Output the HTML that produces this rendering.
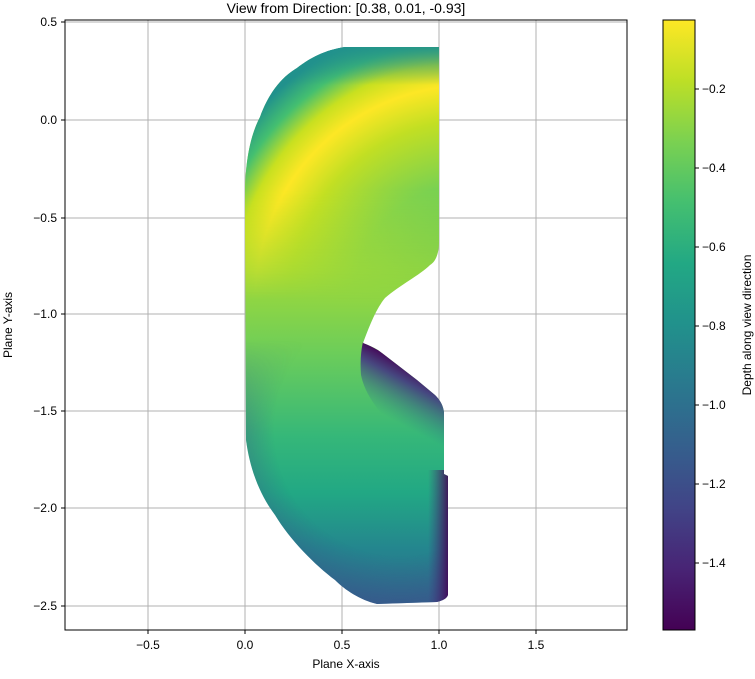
<!DOCTYPE html>
<html><head><meta charset="utf-8"><style>
html,body{margin:0;padding:0;background:#fff;}
svg{display:block;font-family:"Liberation Sans","DejaVu Sans",sans-serif;}
</style></head><body>
<svg width="755" height="679" viewBox="0 0 755 679" xmlns="http://www.w3.org/2000/svg">
<defs>
<clipPath id="shape"><path d="M345,47 L439,47 L439,241 C439,255 435,262 430,265 C420,275 400,285 385,298 C375,310 368,330 363,343 C368,345 373,347 378,350 L417,380 L435,395 C440,400 443,405 444,412 L444,474 L448,476 L448,595 C446,600 440,601 437,602 L377,604 C360,600 345,590 335,580 C315,565 290,540 275,515 C260,495 250,470 246,440 L245,196 C245,170 248,140 260,117 C268,95 280,78 297,68 C310,58 325,50 345,47 Z"/></clipPath>
<linearGradient id="base" gradientUnits="userSpaceOnUse" x1="0" y1="47" x2="0" y2="604">
<stop offset="0" stop-color="#21918c"/><stop offset="0.08" stop-color="#7ad151"/><stop offset="0.25" stop-color="#c8e020"/><stop offset="0.4" stop-color="#a2da37"/><stop offset="0.55" stop-color="#6ccd5a"/><stop offset="0.7" stop-color="#35b779"/><stop offset="0.8" stop-color="#22a884"/><stop offset="0.9" stop-color="#24868e"/><stop offset="1" stop-color="#2f6b8e"/>
</linearGradient>
<radialGradient id="top" gradientUnits="userSpaceOnUse" cx="470" cy="300" r="290">
<stop offset="0" stop-color="#3fbc73"/><stop offset="0.4" stop-color="#7ad151"/><stop offset="0.62" stop-color="#c2df23"/><stop offset="0.74" stop-color="#fde725"/><stop offset="0.82" stop-color="#c8e020"/><stop offset="0.9" stop-color="#44bf70"/><stop offset="0.98" stop-color="#21918c"/><stop offset="1" stop-color="#21918c"/>
</radialGradient>
<linearGradient id="fadeM" gradientUnits="userSpaceOnUse" x1="0" y1="190" x2="0" y2="300">
<stop offset="0" stop-color="#fff"/><stop offset="1" stop-color="#000"/></linearGradient>
<mask id="topmask"><rect x="0" y="0" width="755" height="679" fill="url(#fadeM)"/></mask>
<linearGradient id="fadeB" gradientUnits="userSpaceOnUse" x1="0" y1="340" x2="0" y2="430">
<stop offset="0" stop-color="#000"/><stop offset="1" stop-color="#fff"/></linearGradient>
<mask id="botmask"><rect x="0" y="0" width="755" height="679" fill="url(#fadeB)"/></mask>
<linearGradient id="topedge" gradientUnits="userSpaceOnUse" x1="0" y1="47" x2="0" y2="85">
<stop offset="0" stop-color="#21918c" stop-opacity="0.9"/><stop offset="1" stop-color="#21918c" stop-opacity="0"/></linearGradient>
<linearGradient id="notch" gradientUnits="userSpaceOnUse" x1="405" y1="362" x2="378" y2="412">
<stop offset="0" stop-color="#440154" stop-opacity="1"/><stop offset="0.3" stop-color="#443983" stop-opacity="0.9"/><stop offset="1" stop-color="#2a788e" stop-opacity="0"/></linearGradient>
<radialGradient id="bot" gradientUnits="userSpaceOnUse" cx="400" cy="430" r="210">
<stop offset="0.6" stop-color="#3b528b" stop-opacity="0"/><stop offset="1" stop-color="#414487" stop-opacity="0.85"/></radialGradient>
<linearGradient id="rstrip" gradientUnits="userSpaceOnUse" x1="428" y1="0" x2="448" y2="0">
<stop offset="0" stop-color="#46307e" stop-opacity="0"/><stop offset="1" stop-color="#440154" stop-opacity="0.85"/></linearGradient>
<linearGradient id="cb" x1="0" y1="1" x2="0" y2="0">
<stop offset="0" stop-color="#440154"/><stop offset="0.1" stop-color="#482475"/><stop offset="0.2" stop-color="#414487"/><stop offset="0.3" stop-color="#355f8d"/><stop offset="0.4" stop-color="#2a788e"/><stop offset="0.5" stop-color="#21918c"/><stop offset="0.6" stop-color="#22a884"/><stop offset="0.7" stop-color="#44bf70"/><stop offset="0.8" stop-color="#7ad151"/><stop offset="0.9" stop-color="#bddf26"/><stop offset="1" stop-color="#fde725"/>
</linearGradient>
</defs>
<text x="346" y="13" font-size="14" text-anchor="middle">View from Direction: [0.38, 0.01, -0.93]</text>
<g stroke="#b0b0b0" stroke-width="1">
<line x1="148" y1="20" x2="148" y2="630"/><line x1="245" y1="20" x2="245" y2="630"/><line x1="342" y1="20" x2="342" y2="630"/><line x1="439" y1="20" x2="439" y2="630"/><line x1="536" y1="20" x2="536" y2="630"/>
<line x1="65" y1="22" x2="627" y2="22"/><line x1="65" y1="120" x2="627" y2="120"/><line x1="65" y1="218" x2="627" y2="218"/><line x1="65" y1="314" x2="627" y2="314"/><line x1="65" y1="411" x2="627" y2="411"/><line x1="65" y1="508" x2="627" y2="508"/><line x1="65" y1="606" x2="627" y2="606"/>
</g>
<g clip-path="url(#shape)">
<rect x="240" y="40" width="215" height="570" fill="url(#base)"/>
<rect x="240" y="40" width="215" height="300" fill="url(#top)" mask="url(#topmask)"/>
<rect x="240" y="40" width="215" height="60" fill="url(#topedge)"/>
<rect x="240" y="40" width="215" height="570" fill="url(#bot)" mask="url(#botmask)"/>
<path d="M363,342 L460,395 L460,470 L400,432 C380,415 365,395 361,375 C360,362 361,350 363,342 Z" fill="url(#notch)"/>
<rect x="420" y="470" width="35" height="140" fill="url(#rstrip)"/>
</g>
<rect x="65" y="20" width="562" height="610" fill="none" stroke="#000" stroke-width="1"/>
<g stroke="#000" stroke-width="1">
<line x1="148" y1="630" x2="148" y2="634"/><line x1="245" y1="630" x2="245" y2="634"/><line x1="342" y1="630" x2="342" y2="634"/><line x1="439" y1="630" x2="439" y2="634"/><line x1="536" y1="630" x2="536" y2="634"/>
<line x1="61" y1="22" x2="65" y2="22"/><line x1="61" y1="120" x2="65" y2="120"/><line x1="61" y1="218" x2="65" y2="218"/><line x1="61" y1="314" x2="65" y2="314"/><line x1="61" y1="411" x2="65" y2="411"/><line x1="61" y1="508" x2="65" y2="508"/><line x1="61" y1="606" x2="65" y2="606"/>
</g>
<g font-size="12" text-anchor="middle">
<text x="148" y="649">−0.5</text><text x="245" y="649">0.0</text><text x="342" y="649">0.5</text><text x="439" y="649">1.0</text><text x="536" y="649">1.5</text>
</g>
<g font-size="12" text-anchor="end">
<text x="57" y="26">0.5</text><text x="57" y="124">0.0</text><text x="57" y="222">−0.5</text><text x="57" y="318">−1.0</text><text x="57" y="415">−1.5</text><text x="57" y="512">−2.0</text><text x="57" y="610">−2.5</text>
</g>
<text x="346" y="668" font-size="12" text-anchor="middle">Plane X-axis</text>
<text transform="translate(12,325) rotate(-90)" font-size="12" text-anchor="middle">Plane Y-axis</text>
<rect x="663" y="20" width="32" height="610" fill="url(#cb)" stroke="#000" stroke-width="1"/>
<g stroke="#000"><line x1="695" y1="89" x2="699" y2="89"/><line x1="695" y1="168" x2="699" y2="168"/><line x1="695" y1="247" x2="699" y2="247"/><line x1="695" y1="326" x2="699" y2="326"/><line x1="695" y1="405" x2="699" y2="405"/><line x1="695" y1="484" x2="699" y2="484"/><line x1="695" y1="563" x2="699" y2="563"/></g>
<g font-size="12">
<text x="702" y="93">−0.2</text><text x="702" y="172">−0.4</text><text x="702" y="251">−0.6</text><text x="702" y="330">−0.8</text><text x="702" y="409">−1.0</text><text x="702" y="488">−1.2</text><text x="702" y="567">−1.4</text>
</g>
<text transform="translate(751,325) rotate(-90)" font-size="12" text-anchor="middle">Depth along view direction</text>
</svg>
</body></html>
